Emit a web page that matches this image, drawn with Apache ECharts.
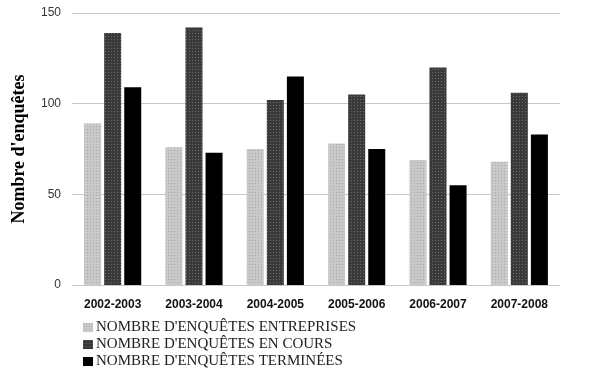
<!DOCTYPE html>
<html><head><meta charset="utf-8">
<script src="https://cdn.jsdelivr.net/npm/echarts@6/dist/echarts.min.js"></script>
<style>html,body{margin:0;padding:0;background:#fff}#c{width:595px;height:371px}</style>
</head><body><div id="c"></div>
<script>
var categories = ['2002-2003','2003-2004','2004-2005','2005-2006','2006-2007','2007-2008'];
var entreprises = [89, 76, 75, 78, 69, 68];
var enCours = [139, 142, 102, 105, 120, 106];
var terminees = [109, 73, 115, 75, 55, 83];
var seriesNames = ["NOMBRE D'ENQUÊTES ENTREPRISES", "NOMBRE D'ENQUÊTES EN COURS", "NOMBRE D'ENQUÊTES TERMINÉES"];
var yTitle = "Nombre d'enquêtes";

var chart = echarts.init(document.getElementById('c'), null, {renderer:'canvas'});
function dec(c){return {symbol:'rect',symbolSize:1,dashArrayX:[1,2],dashArrayY:[1,2],color:c,rotation:0};}
chart.setOption({
  animation:false,
  aria:{enabled:false},
  grid:{left:72,right:35,top:13,bottom:86,outerBoundsMode:'none',containLabel:false},
  legend:{orient:'vertical',left:83,top:319,height:80,width:400,itemWidth:10,itemHeight:9,itemGap:0,
    icon:'rect',padding:0,
    textStyle:{fontFamily:'Liberation Serif',fontSize:15,lineHeight:17,color:'#222',padding:[0,0,0,-2]},
    data:seriesNames},
  xAxis:{type:'category',data:categories,
    axisLine:{lineStyle:{color:'#c8c8c8',width:1}},axisTick:{show:false},
    axisLabel:{fontFamily:'Liberation Sans',fontWeight:'bold',fontSize:12,color:'#111',margin:14}},
  yAxis:{type:'value',min:0,max:150,interval:50,
    name:yTitle,nameLocation:'middle',nameGap:44,
    nameTextStyle:{fontFamily:'Liberation Serif',fontWeight:'bold',fontSize:18,color:'#000'},
    axisLine:{show:false},axisTick:{show:false},
    splitLine:{lineStyle:{color:'#c8c8c8',width:1}},
    axisLabel:{fontFamily:'Liberation Sans',fontSize:12,color:'#333',margin:11}},
  series:[
    {name:seriesNames[0],type:'bar',data:entreprises,barWidth:17,barGap:'18%',
      itemStyle:{color:'#c9c9c9',decal:dec('#a8a8a8')}},
    {name:seriesNames[1],type:'bar',data:enCours,barWidth:17,barGap:'18%',
      itemStyle:{color:'#3a3a3a',decal:dec('#6a6a6a')}},
    {name:seriesNames[2],type:'bar',data:terminees,barWidth:17,barGap:'18%',
      itemStyle:{color:'#000000'}}
  ]
});
</script></body></html>
